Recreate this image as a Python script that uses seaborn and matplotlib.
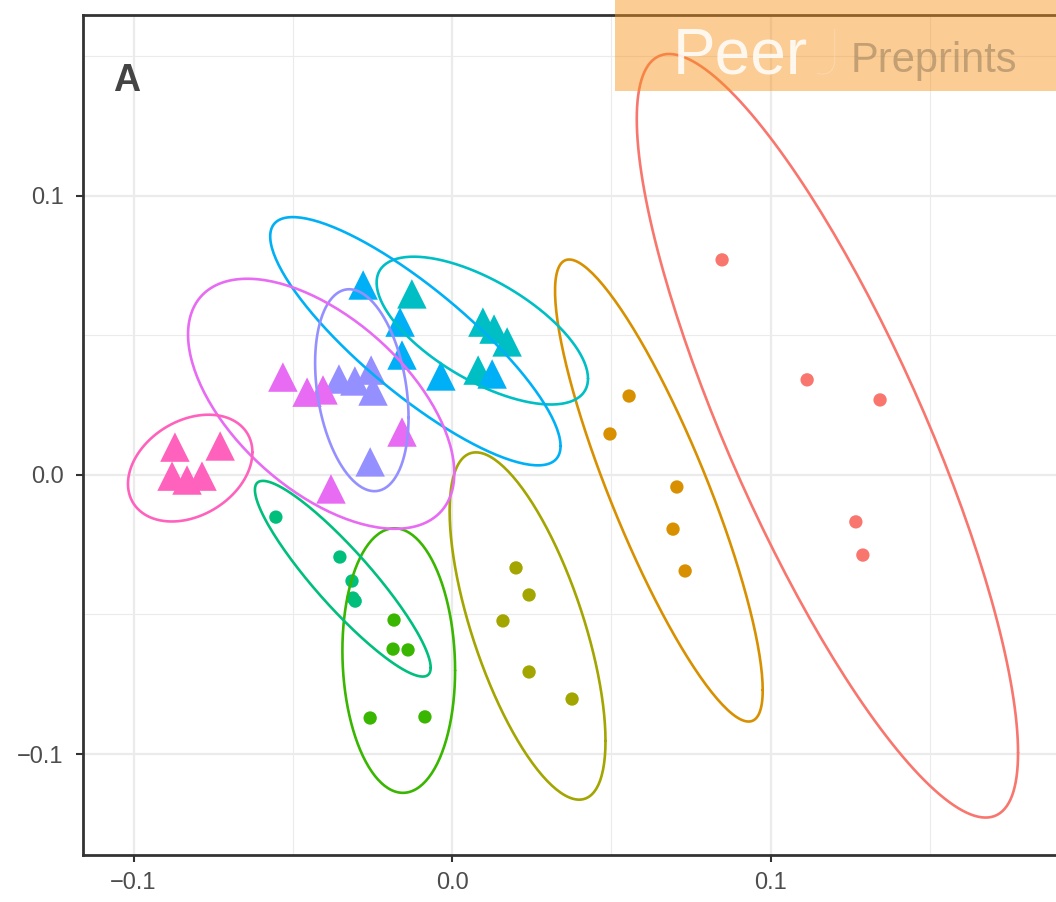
import numpy as np
import pandas as pd
import matplotlib
matplotlib.use("Agg")
import matplotlib.pyplot as plt
import seaborn as sns
from matplotlib.patches import Rectangle

# ---- data: ordination scores per group ----
groups = ["S1", "S2", "S3", "S4", "S5", "S6", "S7", "S8", "S9", "S10"]
shapes = ["circle"] * 5 + ["triangle"] * 5
colors = ["#F8766D", "#D89000", "#A3A500", "#39B600", "#00BF7D",
          "#00BFC4", "#00B0F6", "#9590FF", "#E76BF3", "#FF62BC"]

axis1 = [
    [0.0848, 0.1115, 0.1344, 0.1268, 0.1290],
    [0.0556, 0.0496, 0.0706, 0.0694, 0.0732],
    [0.0201, 0.0242, 0.0160, 0.0242, 0.0377],
    [-0.0182, -0.0185, -0.0138, -0.0257, -0.0085],
    [-0.0553, -0.0352, -0.0314, -0.0311, -0.0304],
    [-0.0126, 0.0097, 0.0132, 0.0173, 0.0082],
    [-0.0279, -0.0163, -0.0157, -0.0035, 0.0126],
    [-0.0355, -0.0305, -0.0254, -0.0248, -0.0257],
    [-0.0531, -0.0455, -0.0405, -0.0157, -0.0380],
    [-0.0870, -0.0728, -0.0879, -0.0832, -0.0785],
]
axis2 = [
    [0.0771, 0.0341, 0.0269, -0.0168, -0.0287],
    [0.0283, 0.0147, -0.0043, -0.0194, -0.0344],
    [-0.0333, -0.0430, -0.0523, -0.0706, -0.0803],
    [-0.0520, -0.0624, -0.0627, -0.0871, -0.0867],
    [-0.0151, -0.0294, -0.0380, -0.0441, -0.0452],
    [0.0649, 0.0548, 0.0523, 0.0477, 0.0376],
    [0.0681, 0.0548, 0.0430, 0.0355, 0.0362],
    [0.0344, 0.0337, 0.0376, 0.0301, 0.0047],
    [0.0351, 0.0297, 0.0305, 0.0154, -0.0050],
    [0.0100, 0.0104, -0.0004, -0.0018, -0.0004],
]
xticks = [-0.1, 0.0, 0.1]
yticks = [-0.1, 0.0, 0.1]
xtick_labels = ["\u22120.1", "0.0", "0.1"]
ytick_labels = ["\u22120.1", "0.0", "0.1"]

rows = []
for g, sh, xs, ys in zip(groups, shapes, axis1, axis2):
    for x, y in zip(xs, ys):
        rows.append({"group": g, "shape": sh, "x": x, "y": y})
df = pd.DataFrame(rows)
palette = dict(zip(groups, colors))


def cov_trob(pts, nu=5, maxit=25, tol=0.01):
    """Multivariate-t robust location/scatter (as in MASS::cov.trob)."""
    n, p = pts.shape
    wt = np.ones(n)
    loc = pts.mean(axis=0)
    w = np.sqrt(wt)
    X = pts - loc
    for _ in range(maxit):
        w0 = w
        X = pts - loc
        _, d, vt = np.linalg.svd(np.sqrt(w / w.sum())[:, None] * X,
                                 full_matrices=False)
        wX = X @ vt.T @ np.diag(1.0 / d)
        Q = (wX ** 2).sum(axis=1)
        w = wt * (nu + p) / (nu + Q)
        loc = (w[:, None] * pts).sum(axis=0) / w.sum()
        if np.all(np.abs(w - w0) < tol):
            break
    sw = np.sqrt(w)[:, None] * X
    return sw.T @ sw / wt.sum(), loc


def t_ellipse(pts, level=0.95):
    cov, center = cov_trob(pts)
    dfd = len(pts) - 1
    # F(2, dfd) quantile in closed form
    fq = dfd / 2.0 * ((1 - level) ** (-2.0 / dfd) - 1)
    radius = np.sqrt(2 * fq)
    R = np.linalg.cholesky(cov).T
    ang = np.linspace(0, 2 * np.pi, 201)
    circ = np.column_stack([np.cos(ang), np.sin(ang)])
    return center + radius * (circ @ R)


# ---- figure ----
sns.set_theme(style="white")
plt.rcParams["font.family"] = ["Liberation Sans", "DejaVu Sans"]

W, H = 1056, 902
fig = plt.figure(figsize=(W / 100, H / 100), dpi=100)
ax = fig.add_axes([83 / W, 47 / H, 1 - 83 / W, 840 / H])

ax.set_xlim(-0.11586, 0.18964)
ax.set_ylim(-0.13620, 0.16487)

ax.set_xticks([-0.05, 0.05, 0.15], minor=True)
ax.set_yticks([-0.05, 0.05, 0.15], minor=True)
ax.set_xticks(xticks)
ax.set_yticks(yticks)
ax.set_xticklabels(xtick_labels)
ax.set_yticklabels(ytick_labels)
ax.grid(True, which="major", color="#EBEBEB", linewidth=1.6, zorder=0)
ax.grid(True, which="minor", color="#EBEBEB", linewidth=0.8, zorder=0)
ax.set_axisbelow(True)

circ_df = df[df["shape"] == "circle"]
tri_df = df[df["shape"] == "triangle"]
sns.scatterplot(data=circ_df, x="x", y="y", hue="group", palette=palette,
                marker="o", s=92, linewidth=0, ax=ax, legend=False, zorder=3)
sns.scatterplot(data=tri_df, x="x", y="y", hue="group", palette=palette,
                marker="^", s=450, linewidth=0, ax=ax, legend=False, zorder=3)

for g, c in zip(groups, colors):
    pts = df.loc[df["group"] == g, ["x", "y"]].to_numpy()
    e = t_ellipse(pts)
    ax.plot(e[:, 0], e[:, 1], color=c, linewidth=1.9, zorder=4)

ax.set_xlabel("")
ax.set_ylabel("")
for side in ["left", "top", "bottom"]:
    ax.spines[side].set_color("#333333")
    ax.spines[side].set_linewidth(2.0)
ax.spines["right"].set_visible(False)
ax.tick_params(axis="both", which="major", direction="out", length=5,
               width=1.5, color="#333333", labelcolor="#4D4D4D",
               labelsize=17, bottom=True, left=True)
ax.tick_params(axis="y", which="major", pad=9)
ax.tick_params(axis="x", which="major", pad=7)
ax.tick_params(axis="both", which="minor", length=0)

ax.text(0.031, 0.922, "A", transform=ax.transAxes, fontsize=27,
        fontweight="bold", color="#444444", ha="left", va="center")

# ---- preprint banner ----
fig.patches.append(Rectangle((615 / W, 1 - 91 / H), (W - 615) / W, 91 / H,
                             transform=fig.transFigure, facecolor="#F7941D",
                             alpha=0.47, edgecolor="none", zorder=10))
fig.text(673 / W, 1 - 73 / H, "Peer", fontsize=46, color="white", alpha=0.85,
         family=["Liberation Sans", "DejaVu Sans"],
         ha="left", va="baseline", zorder=11)
fig.text(815 / W, 1 - 73 / H, "J", fontsize=46, color="white", alpha=0.3,
         family=["Lato", "DejaVu Sans"], fontweight="light",
         ha="left", va="baseline", zorder=11)
fig.text(851 / W, 1 - 72 / H, "Preprints", fontsize=30, color="#8C7355",
         alpha=0.5, family=["Liberation Sans", "DejaVu Sans"],
         ha="left", va="baseline", zorder=11)

fig.savefig("out.png", dpi=100)
